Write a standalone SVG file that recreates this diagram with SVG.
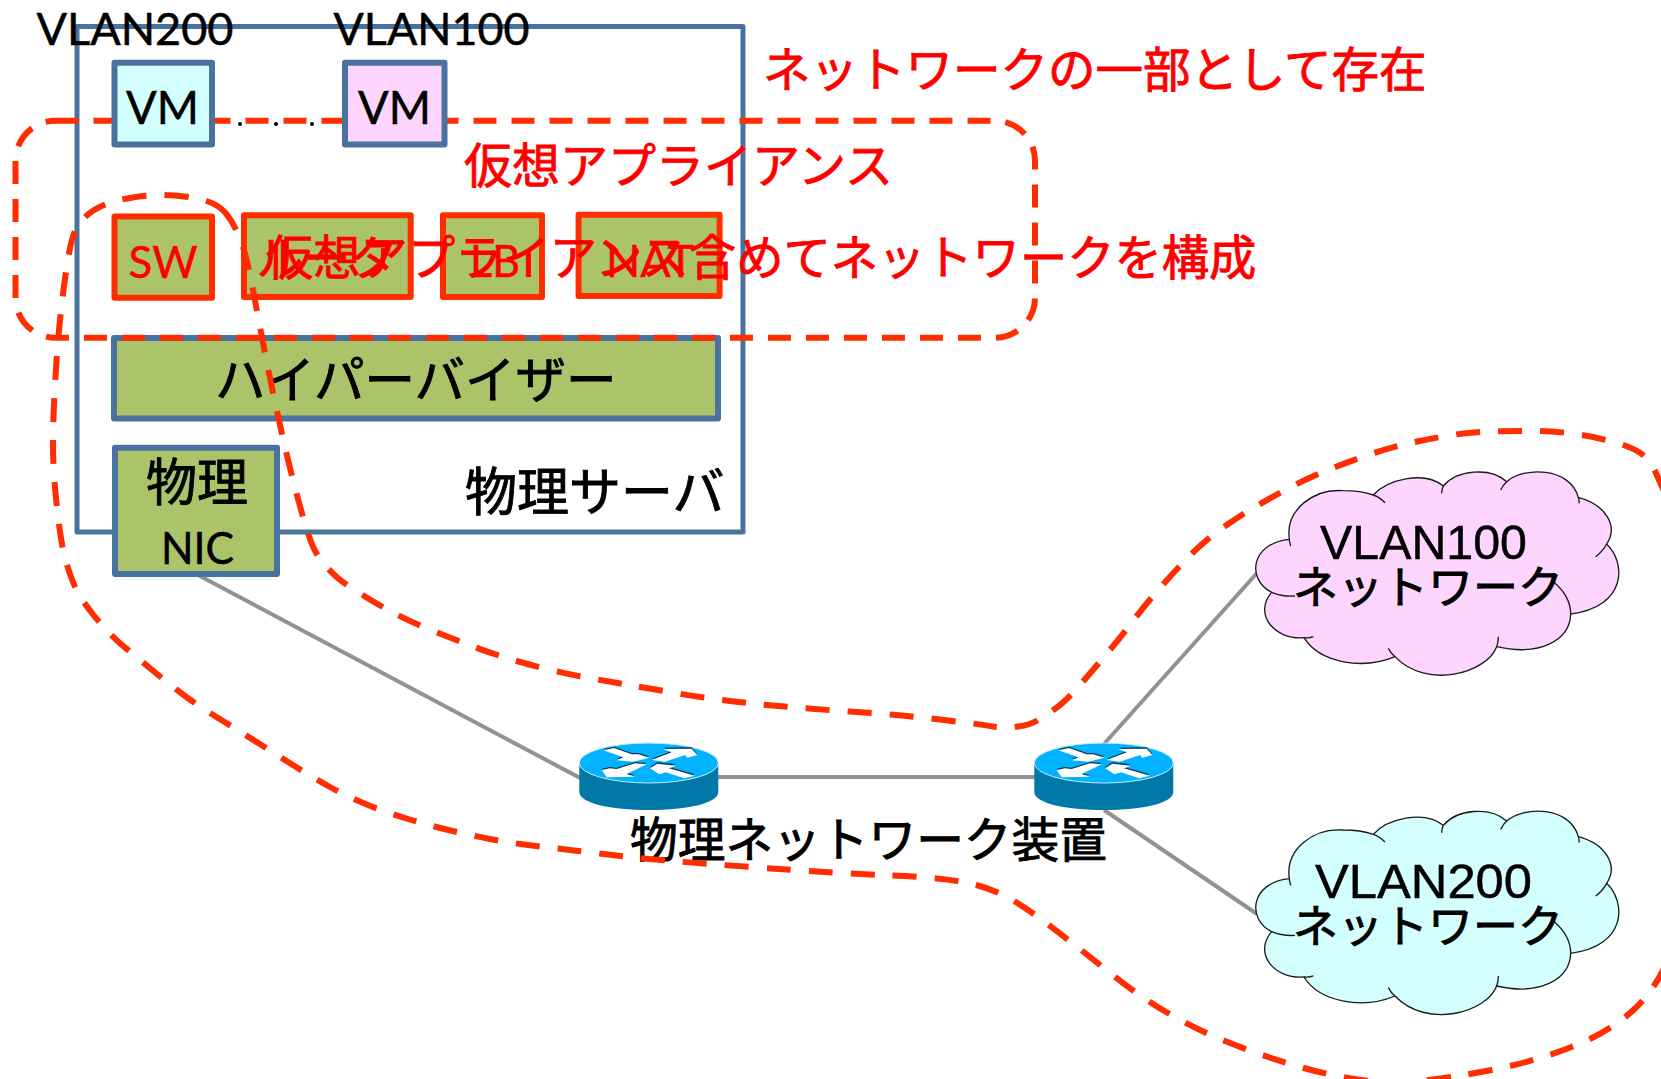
<svg xmlns="http://www.w3.org/2000/svg" width="1661" height="1079" viewBox="0 0 1661 1079">
<style>
.box{stroke:#4a729e;stroke-width:6;stroke-linejoin:round}
.g{fill:#abc46a}
.r{stroke:#ff2d00}
.cy{fill:#d3ffff}
.pk{fill:#fdd5ff}
.dash{fill:none;stroke:#ff2d00;stroke-width:6;stroke-dasharray:23 15}
.con{stroke:#929292;stroke-width:4;fill:none}
.jp{font-family:"Noto Sans CJK JP",sans-serif;stroke-width:.9}
.la{font-family:Lato,"Liberation Sans",sans-serif;stroke-width:.5}
.ar{font-family:"Liberation Sans",sans-serif;stroke-width:.5}
.red{fill:#ff0000;stroke:#ff0000}
.blk{fill:#000;stroke:#000}
.cl{stroke:#1a1a1a;stroke-width:4;fill-rule:nonzero}
.tail{fill:none;stroke:#1a1a1a;stroke-width:4}
</style>
<defs>
<g id="router">
<path d="M579.3,763 V792 C579.3,803 610,810 649,810 C688,810 718.3,803 718.3,792 V763 Z" fill="#0079a9"/>
<ellipse cx="648.8" cy="763" rx="69.5" ry="20" fill="#00b2ff" stroke="#c8ecfb" stroke-width="1"/>
<g transform="translate(570,735) scale(.33333)">
<path transform="translate(0,-4)" fill="#063a52" d="M100,46 132,39 185,58 205,58 238,68 190,80 140,76 160,67Z M245,75 285,80 345,60 352,68 382,60 365,41 280,42 305,52Z M230,88 195,85 140,102 120,100 95,105 110,127 195,125 170,117Z M240,100 262,86 318,92 297,100 375,122 342,130 288,112 268,118Z"/>
<path fill="#fff" d="M100,46 132,39 185,58 205,58 238,68 190,80 140,76 160,67Z M245,75 285,80 345,60 352,68 382,60 365,41 280,42 305,52Z M230,88 195,85 140,102 120,100 95,105 110,127 195,125 170,117Z M240,100 262,86 318,92 297,100 375,122 342,130 288,112 268,118Z"/>
</g>
</g>
<path id="cloudShape" d="M178,238 C165,150 250,85 340,92 C375,92 410,98 430,105 C470,60 580,30 640,78 C680,30 780,20 830,65 C880,20 1020,20 1045,112 C1130,135 1165,200 1130,252 C1190,310 1190,440 1022,462 C1020,540 930,590 800,560 C770,640 590,690 495,590 C400,630 270,610 222,533 C130,540 70,460 125,397 C50,360 60,250 178,238 Z"/>
<path id="cloudTails" d="M430,105 C445,110 455,118 465,128 M640,78 C636,85 635,92 635,100 M830,65 C822,72 817,80 812,90 M1045,112 C1047,118 1048,124 1047,130 M1130,252 C1122,268 1110,280 1097,290 M1022,462 C1022,420 1000,390 970,365 M800,560 C804,550 805,540 805,530 M495,590 C485,582 480,575 475,565 M222,533 C232,534 242,533 250,530 M125,397 C145,405 170,410 195,408 M178,238 C178,244 180,250 182,258"/>
</defs>
<rect width="1661" height="1079" fill="#fff"/>
<g id="connectors">
<line class="con" x1="198" y1="575" x2="582" y2="779"/>
<line class="con" x1="716" y1="777" x2="1036" y2="777"/>
<line class="con" x1="1104" y1="744" x2="1257" y2="573"/>
<line class="con" x1="1104" y1="810" x2="1257" y2="914"/>
</g>
<g id="server">
<rect x="77" y="26.500" width="666" height="505.500" fill="#fff" class="box" style="stroke-width:5"/>
<text class="jp blk" x="465" y="511" font-size="52">物理サーバ</text>
</g>
<g id="dots"><circle cx="240" cy="124" r="2"/><circle cx="276" cy="124" r="2"/><circle cx="312" cy="124" r="2"/></g>
<g id="hypervisor">
<rect x="114" y="338" width="604" height="80.500" class="box g"/>
<text class="jp blk" x="215" y="398" font-size="50.500">ハイパーバイザー</text>
</g>
<g id="appliance-region">
<rect x="15.500" y="120.700" width="1019.500" height="217" rx="40" class="dash"/>
</g>
<g id="vm200">
<rect x="114.500" y="62.700" width="97.500" height="81.800" class="box cy"/>
<text class="la blk" x="126" y="124" font-size="46" textLength="73" lengthAdjust="spacingAndGlyphs">VM</text>
</g>
<g id="vm100">
<rect x="345" y="62.700" width="99.500" height="81.800" class="box pk"/>
<text class="la blk" x="358" y="124" font-size="46" textLength="73" lengthAdjust="spacingAndGlyphs">VM</text>
</g>
<text class="la blk" x="36.500" y="45" font-size="45" textLength="197" lengthAdjust="spacingAndGlyphs">VLAN200</text>
<text class="la blk" x="333.500" y="45" font-size="45" textLength="196" lengthAdjust="spacingAndGlyphs">VLAN100</text>
<g id="sw">
<rect x="114.500" y="216.500" width="97.500" height="81.200" class="box g r"/>
<text class="la red" x="128.500" y="278" font-size="45" textLength="69" lengthAdjust="spacingAndGlyphs">SW</text>
</g>
<g id="router-box">
<rect x="244" y="215.300" width="166.700" height="81.700" class="box g r"/>
<text class="jp red" x="256.500" y="275" font-size="47">ルータ</text>
</g>
<g id="lb">
<rect x="443" y="215.300" width="99" height="81.700" class="box g r"/>
<text class="la red" x="470" y="277" font-size="45" textLength="50" lengthAdjust="spacingAndGlyphs">LB</text>
</g>
<g id="nat">
<rect x="578.600" y="214.700" width="141" height="81.300" class="box g r"/>
<text class="la red" x="606" y="277" font-size="45" textLength="88" lengthAdjust="spacingAndGlyphs">NAT</text>
</g>
<g id="nic">
<rect x="115" y="447.700" width="162" height="126.300" class="box g"/>
<text class="jp blk" x="146" y="501" font-size="51">物理</text>
<text class="la blk" x="161" y="564" font-size="45" textLength="73" lengthAdjust="spacingAndGlyphs">NIC</text>
</g>
<g id="router1"><use href="#router"/></g>
<g id="router2"><use href="#router" x="455"/></g>
<text class="jp blk" x="630" y="857" font-size="47.700">物理ネットワーク装置</text>
<g id="cloud100">
<g transform="translate(1230,460) scale(.33333)"><use href="#cloudShape" class="cl pk"/><use href="#cloudTails" class="tail"/></g>
<text class="ar blk" x="1320" y="559" font-size="49" textLength="207" lengthAdjust="spacingAndGlyphs">VLAN100</text>
<text class="jp blk" x="1293" y="604" font-size="45">ネットワーク</text>
</g>
<g id="cloud200">
<g transform="translate(1230,799.330) scale(.33333)"><use href="#cloudShape" class="cl cy"/><use href="#cloudTails" class="tail"/></g>
<text class="ar blk" x="1315" y="898" font-size="49" textLength="217" lengthAdjust="spacingAndGlyphs">VLAN200</text>
<text class="jp blk" x="1293" y="943" font-size="45">ネットワーク</text>
</g>
<g id="network-region">
<path class="dash" style="stroke-dasharray:24 18" d="M226,213.500 Q219,205 206.500,201 Q194,197 174.500,195.500 Q155,194 135.500,197 Q116,200 104,205 Q92,210 84,218 Q76,226 72.500,238 Q69,250 65.500,275 Q62,300 59.500,325 Q57,350 55,385 Q53,420 53,442.500 Q53,465 55,487.500 Q57,510 60,531.500 Q63,553 67,565 Q70.600,577 75.300,587.500 Q80,598 93.500,615 Q107,632 122,645 Q137.600,658 154,671.500 Q170,685 187,697.500 Q204.600,710 223,721 Q241,732 259,743.500 Q277,755 294.500,766 Q312,777 330,787 Q348,797 368,805 Q388,813 408,819 Q428,825 448.500,830 Q469,835 490,839 Q511,843 532,845.500 Q553,848 574,850.500 Q595,853 630,857 Q666,861 750.500,867 Q835,873 892.500,875.500 Q950,878 976.500,885 Q1003,892 1031,912 Q1059,932 1112,974.500 Q1165,1017 1225,1041 Q1285,1065 1332.500,1075 Q1380,1085 1415,1081.500 Q1450,1078 1491.500,1070 Q1533,1062 1571.500,1047 Q1610,1032 1635,1008.500 Q1660,985 1675,942.500 Q1690,900 1690,700 Q1690,550 1675,516 Q1660,482 1655.500,472 Q1651,462 1643,455 Q1634.500,448 1615.500,442.500 Q1596.500,437 1575,434 Q1554,431 1533,431 Q1512,431 1491,431.500 Q1470,432 1449,435.500 Q1428,439 1408,443.500 Q1388,448 1368,455 Q1348,462 1329,469.500 Q1310,477 1291,487 Q1272,497 1254,507.500 Q1236,518 1219,530.500 Q1202,543 1187.500,558 Q1173,573 1159,589 Q1145,605 1132.500,621.500 Q1120,638 1106.500,654 Q1093,670 1079,686 Q1065,702 1055.500,708.500 Q1046,715 1038,720 Q1030,725 1018,726.500 Q1006,728 996,727 Q986,725 944,720 Q902,715 849.500,711.500 Q797,708 757,704 Q717,700 678.500,693.500 Q640,687 626,684.500 Q612,682 592,678.500 Q572,675 551,670 Q530,665 510,659 Q490,653 470.500,645.500 Q451,638 431,630 Q411,622 393,612.500 Q375,603 357,591.500 Q338.500,580 331,571.500 Q323,563 317.500,555 Q312,547 306,527 Q300,507 293.500,482 Q287,457 277.500,413.500 Q268,370 261.500,335 Q255,300 250,275 Q245,250 239,236 Q233,222 226,213.500 Z"/>
</g>
<g id="annotations">
<text class="jp red" x="763" y="87" font-size="47.500">ネットワークの一部として存在</text>
<text class="jp red" x="464" y="183" font-size="48">仮想アプライアンス</text>
<text class="jp red" x="266" y="275" font-size="47.300">仮想アプライアンス含めてネットワークを構成</text>
</g>
</svg>
